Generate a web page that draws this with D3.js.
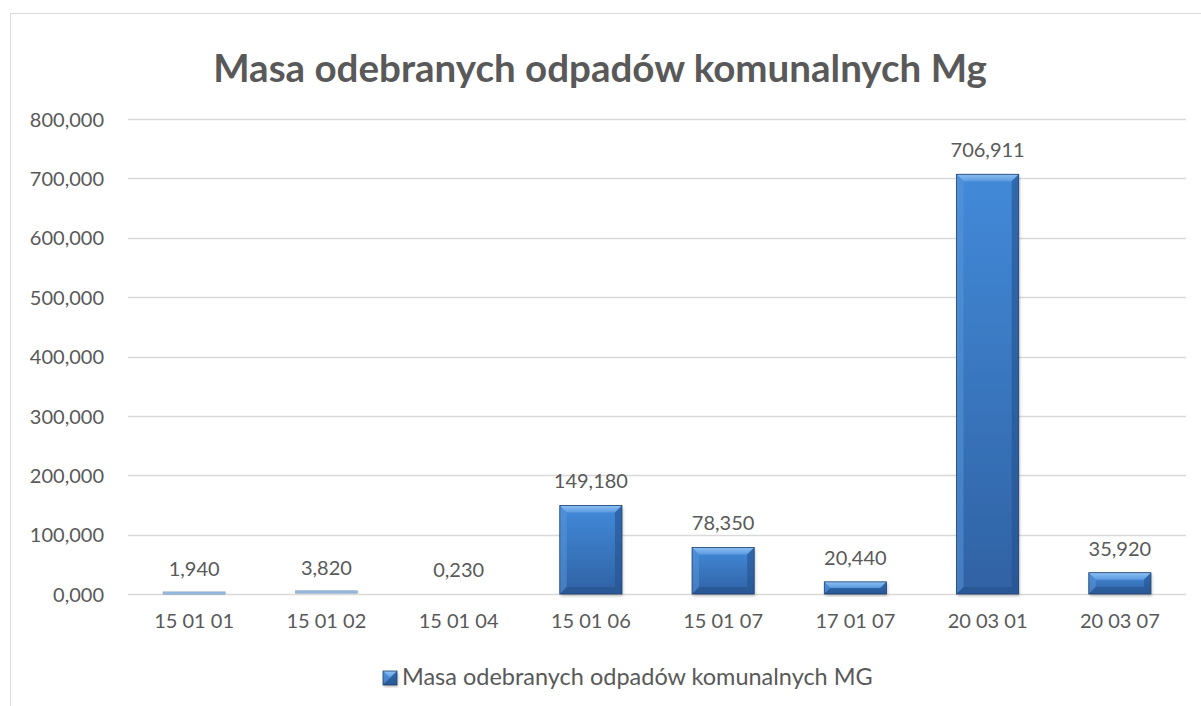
<!DOCTYPE html>
<html>
<head>
<meta charset="utf-8">
<script src="https://cdn.jsdelivr.net/npm/d3@7"></script>
<style>
  body { margin: 0; background: #fff; }
  text { font-family: Lato, "Open Sans", sans-serif; fill: #595959; }
</style>
</head>
<body>
<script>
// data
var categories = ["15 01 01", "15 01 02", "15 01 04", "15 01 06", "15 01 07", "17 01 07", "20 03 01", "20 03 07"];
var values = [1.940, 3.820, 0.230, 149.180, 78.350, 20.440, 706.911, 35.920];
var yTicks = [0, 100, 200, 300, 400, 500, 600, 700, 800];
var title = "Masa odebranych odpadów komunalnych Mg";
var seriesName = "Masa odebranych odpadów komunalnych MG";

var svgWidth = 1201, svgHeight = 706;
var plot = { left: 128, right: 1186, top: 119, bottom: 594 };

var pl = d3.formatLocale({ decimal: ",", thousands: " ", grouping: [3], currency: ["", ""] });
var fmt = pl.format(".3f");

var svg = d3.select("body").append("svg")
  .attr("width", svgWidth)
  .attr("height", svgHeight);

var defs = svg.append("defs");
var grad = defs.append("linearGradient").attr("id", "barGrad")
  .attr("x1", 0).attr("y1", 0).attr("x2", 0).attr("y2", 1);
grad.append("stop").attr("offset", "0%").attr("stop-color", "#428ad9");
grad.append("stop").attr("offset", "100%").attr("stop-color", "#3062a4");

var topGrad = defs.append("linearGradient").attr("id", "topGrad")
  .attr("x1", 0).attr("y1", 0).attr("x2", 0).attr("y2", 1);
topGrad.append("stop").attr("offset", "0%").attr("stop-color", "#8cc0f2");
topGrad.append("stop").attr("offset", "100%").attr("stop-color", "#5c9be0");

var shadow = defs.append("filter").attr("id", "shadow")
  .attr("x", "-20%").attr("y", "-20%").attr("width", "140%").attr("height", "140%");
shadow.append("feDropShadow").attr("dx", 1).attr("dy", 2).attr("stdDeviation", 1.5)
  .attr("flood-color", "#000").attr("flood-opacity", 0.25);

// chart area border (only top and left visible in the window)
svg.append("rect")
  .attr("x", 10.5).attr("y", 13.5)
  .attr("width", 1240).attr("height", 760)
  .attr("fill", "none").attr("stroke", "#d9d9d9");

var x = d3.scaleBand().domain(categories).range([plot.left, plot.right]).paddingInner(0.53).paddingOuter(0.265);
var y = d3.scaleLinear().domain([0, 800]).range([plot.bottom, plot.top]);

// gridlines
svg.append("g").selectAll("line")
  .data(yTicks)
  .enter().append("line")
  .attr("x1", plot.left).attr("x2", plot.right)
  .attr("y1", d => Math.round(y(d)) + 0.5).attr("y2", d => Math.round(y(d)) + 0.5)
  .attr("stroke", "#d9d9d9").attr("stroke-width", 1.3);

// y axis labels
var leftAxis = d3.axisLeft(y).tickValues(yTicks).tickFormat(fmt).tickSize(0).tickPadding(0);
var yAxis = svg.append("g").attr("transform", "translate(104,0)").call(leftAxis);
yAxis.select(".domain").remove();
yAxis.selectAll("text").attr("font-size", "20px").attr("fill", "#595959")
  .style("font-family", "Lato, sans-serif").attr("dy", "0.36em");

// x axis labels
var bottomAxis = d3.axisBottom(x).tickSize(0).tickPadding(0);
var xAxis = svg.append("g").attr("transform", "translate(0,628)").call(bottomAxis);
xAxis.select(".domain").remove();
xAxis.selectAll("text").attr("font-size", "20px").attr("fill", "#595959")
  .style("font-family", "Lato, sans-serif").attr("dy", 0);

// bevelled bar
function drawBar(g, x0, y0, w, h) {
  var x1 = x0 + w, y1 = y0 + h;
  if (h < 4) {
    // very short bars only show the light top face
    g.append("rect").attr("x", x0).attr("y", y0 - 1).attr("width", w).attr("height", 2.5)
      .attr("fill", "#8fb8e6").attr("stroke", "#9aa6b4").attr("stroke-width", 0.6);
    return;
  }
  var b = Math.min(7, h / 2, w / 2);
  g.append("rect").attr("x", x0).attr("y", y0).attr("width", w).attr("height", h)
    .attr("fill", "url(#barGrad)").attr("filter", "url(#shadow)");
  var pts = function (a) { return a.map(p => p.join(",")).join(" "); };
  g.append("polygon").attr("points", pts([[x0, y0], [x1, y0], [x1 - b, y0 + b], [x0 + b, y0 + b]]))
    .attr("fill", "url(#topGrad)");
  g.append("polygon").attr("points", pts([[x0, y0], [x0 + b, y0 + b], [x0 + b, y1 - b], [x0, y1]]))
    .attr("fill", "#5a98dc").attr("opacity", 0.5);
  g.append("polygon").attr("points", pts([[x1, y0], [x1, y1], [x1 - b, y1 - b], [x1 - b, y0 + b]]))
    .attr("fill", "#24528e").attr("opacity", 0.6);
  g.append("polygon").attr("points", pts([[x0, y1], [x0 + b, y1 - b], [x1 - b, y1 - b], [x1, y1]]))
    .attr("fill", "#24508a").attr("opacity", 0.55);
  g.append("rect").attr("x", x0).attr("y", y0).attr("width", w).attr("height", h)
    .attr("fill", "none").attr("stroke", "#1f416f").attr("stroke-width", 0.8);
}

var bars = svg.append("g");
categories.forEach(function (c, i) {
  var top = y(values[i]);
  var h = y(0) - top;
  if (h < 0.6) return;
  drawBar(bars.append("g"), x(c), top, x.bandwidth(), h);
});

// data labels
svg.append("g").selectAll("text")
  .data(values)
  .enter().append("text")
  .attr("x", (d, i) => x(categories[i]) + x.bandwidth() / 2)
  .attr("y", d => y(d) - 17)
  .attr("text-anchor", "middle")
  .attr("font-size", "20px")
  .text(d => fmt(d));

// title, fitted to the width seen in the picture
var t = svg.append("text")
  .attr("x", 600).attr("y", 82)
  .attr("text-anchor", "middle")
  .attr("font-weight", "bold")
  .attr("font-size", "40px")
  .text(title);
var tw = t.node().getComputedTextLength();
t.attr("font-size", (40 * 774 / tw) + "px");

// legend
var lg = svg.append("g");
drawBar(lg, 383, 671, 14, 14);
var lt = lg.append("text")
  .attr("x", 402).attr("y", 685)
  .attr("font-size", "20px")
  .text(seriesName);
var lw = lt.node().getComputedTextLength();
lt.attr("font-size", (20 * 471 / lw) + "px");
</script>
</body>
</html>
